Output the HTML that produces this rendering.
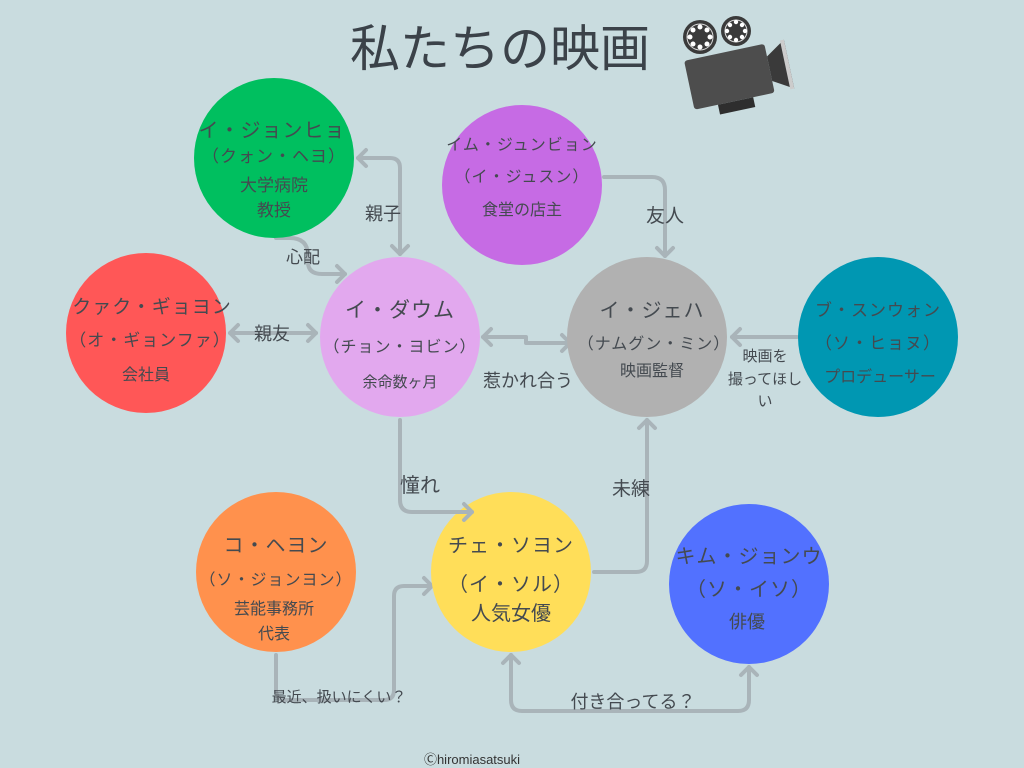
<!DOCTYPE html>
<html><head><meta charset="utf-8"><style>
html,body{margin:0;padding:0;background:#c9dcdf;}
svg{display:block;}
text{font-family:"Liberation Sans","Noto Sans CJK JP",sans-serif;fill:#444a50;text-anchor:middle;}
.n{letter-spacing:1px;}
</style></head><body>
<svg width="1024" height="768" viewBox="0 0 1024 768" xmlns="http://www.w3.org/2000/svg">
<rect width="1024" height="768" fill="#c9dcdf"/>
<text x="500" y="66" font-size="50" style="fill:#3b4249">私たちの映画</text>
<!-- camera -->
<g>
<circle cx="700" cy="37" r="17" fill="#3a3a3a"/><circle cx="700" cy="37" r="13" fill="none" stroke="#ddd" stroke-width="1"/>
<g fill="#fff"><circle cx="700" cy="27" r="2.5"/><circle cx="700" cy="47" r="2.5"/><circle cx="690" cy="37" r="2.5"/><circle cx="710" cy="37" r="2.5"/><circle cx="693" cy="30" r="2.5"/><circle cx="707" cy="30" r="2.5"/><circle cx="693" cy="44" r="2.5"/><circle cx="707" cy="44" r="2.5"/></g>
<circle cx="736" cy="31" r="15" fill="#3a3a3a"/><circle cx="736" cy="31" r="11" fill="none" stroke="#ddd" stroke-width="1"/>
<g fill="#fff"><circle cx="736" cy="22" r="2.2"/><circle cx="736" cy="40" r="2.2"/><circle cx="727" cy="31" r="2.2"/><circle cx="745" cy="31" r="2.2"/><circle cx="730" cy="25" r="2.2"/><circle cx="742" cy="25" r="2.2"/><circle cx="730" cy="37" r="2.2"/><circle cx="742" cy="37" r="2.2"/></g>
<g transform="rotate(-12 728 75)">
<rect x="688" y="52" width="82" height="50" rx="3" fill="#4d4d4d"/>
<rect x="712" y="102" width="36" height="10" fill="#2e2e2e"/>
<polygon points="770,65 790,52 790,102 770,90" fill="#3a3a3a"/>
<rect x="786" y="52" width="4" height="50" fill="#ccc"/>
</g>
</g>
<!-- connectors -->
<g fill="none" stroke="#a9b4b9" stroke-width="4" stroke-linecap="round" stroke-linejoin="round">
<path d="M400 254 V168 Q400 158 390 158 H358"/><path d="M366 150 L358 158 L366 166"/><path d="M392 246 L400 254 L408 246"/>
<path d="M276 238 H290 Q308 238 308 256 V262 Q308 274 322 274 H345"/><path d="M337 266 L345 274 L337 282"/>
<path d="M230 333 H316"/><path d="M238 325 L230 333 L238 341"/><path d="M308 325 L316 333 L308 341"/>
<path d="M483 337 H526 V343 H570"/><path d="M491 329 L483 337 L491 345"/><path d="M562 335 L570 343 L562 351"/>
<path d="M604 177 H652 Q665 177 665 190 V256"/><path d="M657 248 L665 256 L673 248"/>
<path d="M797 337 H732"/><path d="M740 329 L732 337 L740 345"/>
<path d="M594 572 H636 Q647 572 647 561 V420"/><path d="M639 428 L647 420 L655 428"/>
<path d="M276 655 V690 Q276 700 286 700 H384 Q394 700 394 690 V596 Q394 586 404 586 H432"/><path d="M424 578 L432 586 L424 594"/>
<path d="M511 655 V700 Q511 711 522 711 H738 Q749 711 749 700 V667"/><path d="M503 663 L511 655 L519 663"/><path d="M741 675 L749 667 L757 675"/>
</g>
<!-- circles -->
<circle cx="274" cy="158" r="80" fill="#00bf5f"/>
<circle cx="522" cy="185" r="80" fill="#c66be4"/>
<circle cx="400" cy="337" r="80" fill="#e2a8ee"/>
<circle cx="146" cy="333" r="80" fill="#ff5757"/>
<circle cx="647" cy="337" r="80" fill="#b1b1b1"/>
<circle cx="878" cy="337" r="80" fill="#0097b2"/>
<circle cx="276" cy="572" r="80" fill="#ff914d"/>
<circle cx="511" cy="572" r="80" fill="#ffde59"/>
<circle cx="749" cy="584" r="80" fill="#5271ff"/>
<g fill="none" stroke="#a9b4b9" stroke-width="4" stroke-linecap="round" stroke-linejoin="round">
<path d="M400 420 V500 Q400 512 412 512 H472"/><path d="M464 504 L472 512 L464 520"/>
</g>
<!-- node text -->
<text class="n" x="272" y="137" font-size="20">イ・ジョンヒョ</text>
<text class="n" x="274" y="162" font-size="17">（クォン・ヘヨ）</text>
<text x="274" y="191" font-size="17">大学病院</text>
<text x="274" y="216" font-size="17">教授</text>
<text class="n" x="522" y="150" font-size="16">イム・ジュンビョン</text>
<text class="n" x="522" y="182" font-size="16">（イ・ジュスン）</text>
<text x="522" y="215" font-size="16">食堂の店主</text>
<text class="n" x="400" y="317" font-size="21">イ・ダウム</text>
<text class="n" x="400" y="352" font-size="16">（チョン・ヨビン）</text>
<text x="400" y="387" font-size="15">余命数ヶ月</text>
<text class="n" x="152" y="313" font-size="19">クァク・ギョヨン</text>
<text class="n" x="150" y="346" font-size="17">（オ・ギョンファ）</text>
<text x="146" y="380" font-size="16">会社員</text>
<text class="n" x="652" y="317" font-size="20">イ・ジェハ</text>
<text class="n" x="654" y="349" font-size="16">（ナムグン・ミン）</text>
<text x="652" y="376" font-size="16">映画監督</text>
<text class="n" x="878" y="316" font-size="17">ブ・スンウォン</text>
<text class="n" x="878" y="349" font-size="17">（ソ・ヒョヌ）</text>
<text x="880" y="382" font-size="16">プロデューサー</text>
<text class="n" x="276" y="552" font-size="20">コ・ヘヨン</text>
<text class="n" x="276" y="585" font-size="16">（ソ・ジョンヨン）</text>
<text x="274" y="614" font-size="16">芸能事務所</text>
<text x="274" y="639" font-size="16">代表</text>
<text class="n" x="511" y="552" font-size="20">チェ・ソヨン</text>
<text class="n" x="511" y="591" font-size="20">（イ・ソル）</text>
<text x="511" y="620" font-size="20">人気女優</text>
<text class="n" x="749" y="563" font-size="20">キム・ジョンウ</text>
<text class="n" x="749" y="596" font-size="20">（ソ・イソ）</text>
<text x="747" y="628" font-size="18">俳優</text>
<!-- edge labels -->
<text x="383" y="220" font-size="18">親子</text>
<text x="303" y="263" font-size="17">心配</text>
<text x="272" y="340" font-size="18">親友</text>
<text x="528" y="387" font-size="18">惹かれ合う</text>
<text x="665" y="222" font-size="19">友人</text>
<text x="765" y="361" font-size="15">映画を</text>
<text x="765" y="384" font-size="15">撮ってほし</text>
<text x="765" y="406" font-size="15">い</text>
<text x="420" y="492" font-size="20">憧れ</text>
<text x="631" y="495" font-size="19">未練</text>
<text x="339" y="702" font-size="15">最近、扱いにくい？</text>
<text x="633" y="708" font-size="18">付き合ってる？</text>
<text x="472" y="764" font-size="13" style="fill:#333">Ⓒhiromiasatsuki</text>
</svg>
</body></html>
